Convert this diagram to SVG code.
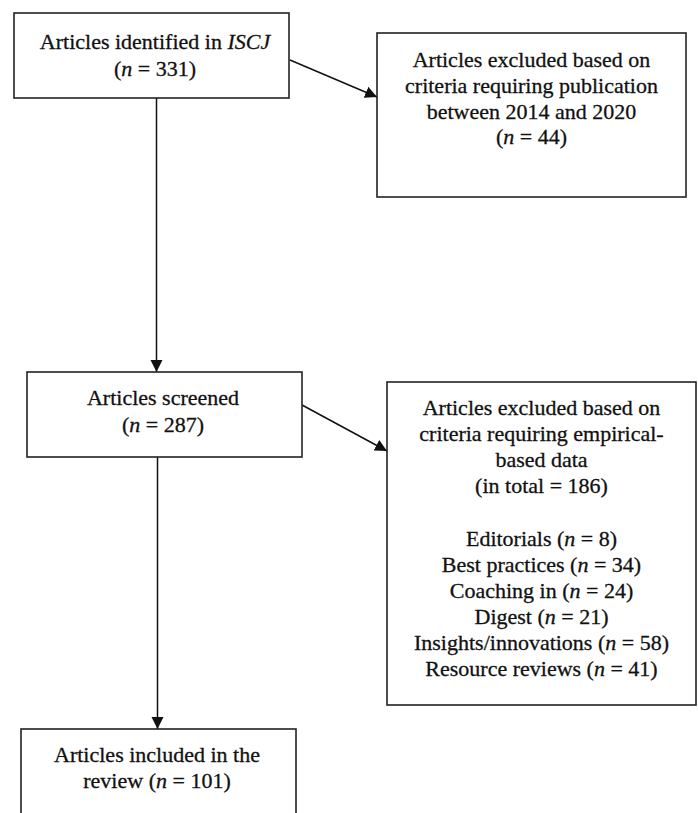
<svg xmlns="http://www.w3.org/2000/svg" width="698" height="813" viewBox="0 0 698 813">
<style>
.box{fill:#fff;stroke:#222;stroke-width:1.6}
.t{font-family:"Liberation Serif","Times New Roman",serif;font-size:22px;fill:#111;stroke:#111;stroke-width:0.3;text-anchor:middle}
.i{font-style:italic}
.c{stroke:#111;stroke-width:1.5;fill:none}
</style>
<defs>
<marker id="ah" markerUnits="userSpaceOnUse" markerWidth="13" markerHeight="13" refX="12" refY="6.5" orient="auto">
<path d="M0,0.5 L12,6.5 L0,12.5 z" fill="#111"/>
</marker>
</defs>
<rect width="698" height="813" fill="#fff"/>
<g id="connectors">
<line class="c" x1="156.5" y1="98" x2="156.5" y2="372" marker-end="url(#ah)"/>
<line class="c" x1="290" y1="60" x2="377" y2="97" marker-end="url(#ah)"/>
<line class="c" x1="302" y1="405" x2="387" y2="451" marker-end="url(#ah)"/>
<line class="c" x1="157.5" y1="457" x2="157.5" y2="729" marker-end="url(#ah)"/>
</g>
<g id="identified">
<rect class="box" x="14" y="13" width="275" height="85"/>
<text class="t" x="155" y="49">Articles identified in <tspan class="i">ISCJ</tspan></text>
<text class="t" x="155" y="76">(<tspan class="i">n</tspan> = 331)</text>
</g>
<g id="excluded-date">
<rect class="box" x="377" y="33" width="309" height="164"/>
<text class="t" x="531.5" y="67">Articles excluded based on</text>
<text class="t" x="531.5" y="93">criteria requiring publication</text>
<text class="t" x="531.5" y="118.5">between 2014 and 2020</text>
<text class="t" x="531.5" y="144">(<tspan class="i">n</tspan> = 44)</text>
</g>
<g id="screened">
<rect class="box" x="27" y="372" width="275" height="85"/>
<text class="t" x="163" y="405">Articles screened</text>
<text class="t" x="163" y="432">(<tspan class="i">n</tspan> = 287)</text>
</g>
<g id="excluded-empirical">
<rect class="box" x="387" y="382" width="309" height="323"/>
<text class="t" x="541.5" y="415">Articles excluded based on</text>
<text class="t" x="541.5" y="441">criteria requiring empirical-</text>
<text class="t" x="541.5" y="467">based data</text>
<text class="t" x="541.5" y="493">(in total = 186)</text>
<text class="t" x="541.5" y="546">Editorials (<tspan class="i">n</tspan> = 8)</text>
<text class="t" x="541.5" y="572">Best practices (<tspan class="i">n</tspan> = 34)</text>
<text class="t" x="541.5" y="598">Coaching in (<tspan class="i">n</tspan> = 24)</text>
<text class="t" x="541.5" y="624">Digest (<tspan class="i">n</tspan> = 21)</text>
<text class="t" x="541.5" y="650">Insights/innovations (<tspan class="i">n</tspan> = 58)</text>
<text class="t" x="541.5" y="676">Resource  reviews (<tspan class="i">n</tspan> = 41)</text>
</g>
<g id="included">
<rect class="box" x="21" y="729" width="275" height="100"/>
<text class="t" x="157" y="762">Articles included in the</text>
<text class="t" x="157" y="788">review (<tspan class="i">n</tspan> = 101)</text>
</g>
</svg>
